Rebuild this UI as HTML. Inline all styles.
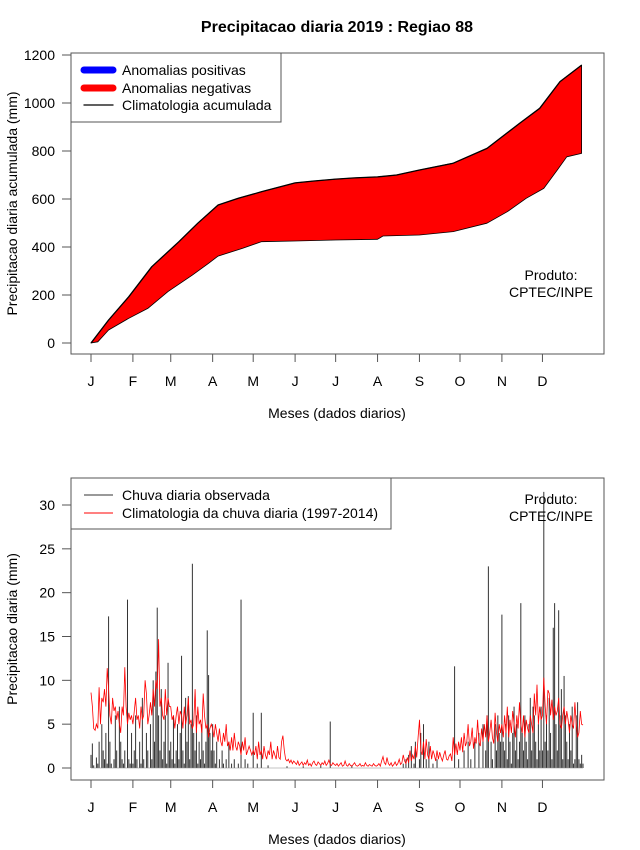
<!DOCTYPE html>
<html><head><meta charset="utf-8"><style>
html,body{margin:0;padding:0;background:#fff;}
svg{display:block;font-family:"Liberation Sans",sans-serif;}
</style></head><body>
<svg id="chart" width="640" height="850" viewBox="0 0 640 850" xmlns="http://www.w3.org/2000/svg">
<text x="337" y="32" text-anchor="middle" font-size="16" font-weight="bold">Precipitacao diaria 2019 : Regiao 88</text>
<g id="topPanel"></g>
<g id="botPanel"></g>
</svg>
<script>
// ---- data ----
const monthLabels = ["J","F","M","A","M","J","J","A","S","O","N","D"];
const monthStartDays = [0,31,59,90,120,151,181,212,243,273,304,334];
const climDays = [0,13,28,45,65,79,94,109,126,151,165,181,195,212,226,243,268,293,317,332,347,363];
const climCum  = [0,96,193,318,422,499,575,603,630,667,675,683,688,692,700,721,749,811,915,978,1089,1158];
const obsDays  = [0,5,13,28,42,57,75,87,94,112,126,151,181,212,216,243,268,293,308,322,335,345,352,363];
const obsCum   = [0,5,54,103,144,214,283,332,362,394,422,425,429,432,446,450,464,499,547,603,644,721,776,790];
const topTicks = [0,200,400,600,800,1000,1200];
const botTicks = [0,5,10,15,20,25,30];
const obsDaily = [].concat(
[1.5,2.8,0.3,0,1.2,0.5,3,0,5,2,1,4,0.5,17.3,3,0.5,0,1,6,2,0,7,3,1,0.5,2,0,19.2,1,0.5,4],
[0.5,2,6,1,0,3,0.5,8,1,0,4,2,0,5,1,10,3,11,18.3,6,2,9,1,3,6,0.5,12,2],
[3,1,6,0.5,2,5,1,4,12.8,2,0.5,8,3,8.2,1,5,23.3,4,2,6,0.5,3,1,5,2,0.5,3,15.7,10.6,4,2],
[5,2,0.5,3,0,1,0,2,0.5,0,1,0,3,0,0.5,0,1,0,0,0.5,0,19.2,0,0,1,0,0.5,0,0,0],
[6.3,0,0,0.5,0,0,6.3,0,0,0,0,0.3,0,0,0,0,0,0,0,0,0,0,0,0,0,0.2,0,0,0,0,0],
[0,0,0,0,0,0,0.2,0,0,0,0,0,0,0,0,0,0,0,0,0.3,0,0,0,0,0,0,5.3,0,0,0],
[0,0,0,0,0,0,0,0,0,0,0,0,0.3,0,0,0,0,0,0,0,0,0,0,0,0,0,0,0,0,0,0],
[0,0,0,0,0,0,0,0,0,0,0,0,0,0,0,0,0,0,0,0.5,0,1,0,1.5,0,2.5,0,0.5,3,0,0],
[1,4,0,5,0,1,0,3,0,0,0.5,0,0,1,0,0,0,0,0,0,0,0,0,0,0,0,11.6,0,0,1],
[0,0,0,2,0,0,3,0,1,0,0,3,0,0,4,0,0,5,0,2,6,23,0,3,1,0,5,2,6,4,3],
[17.5,3,2,5,1,6,3,0.5,4,7,2,5,1,3,18.8,4,2,6,3,1,5,8,2,7,6,3,1,5,2,7],
[2,31.5,3,6,2,8,4,1,16,18.8,5,2,18,6,9,1,10.5,6,3,1,5,2,7,0.5,1,6,7.5,1,0.5,1.5,0.5]
);
const climDaily = [].concat(
[8.6,7,4.5,4.3,5,4.5,9.2,5,8,7.5,9,7,11.4,9,6,5,8,6.5,7,5.5,6.5,5,4,7,6,11.5,7,5,6.3,5.5,6],
[5,6.5,8,5.5,6,4.5,7,5.5,6,10,8.5,5,6,7.5,6,9,7,10,9,14.7,7,8,6,5.5,9,6,8,7],
[7,5.5,6,4.5,6,7,5,6.5,6,4.5,7,5,6,8,5,5.5,4.5,5,9,4,7,5,5.5,4,8.5,6,4.5,5,3.5,4.5,5],
[4.5,3.5,5,4,3,4.5,3,2.5,4,3,5,2.5,3,2,3.5,2,4,2.5,2,3,2.5,1.5,3,2,3.5,1.5,2,2.5,2,1.5],
[2,1.5,2.5,1,3,1.5,2,1,2.5,1.5,1,2,1.5,3,1,2,1.5,1,2.5,1.2,1,3,3.7,2,1,0.8,1,0.6,0.9,0.5,0.8],
[0.6,0.4,0.8,0.3,0.5,0.7,0.3,0.6,0.4,0.9,0.3,0.5,0.2,0.6,0.8,0.4,0.3,0.7,0.5,0.3,0.6,0.4,0.8,0.3,0.5,0.9,0.4,0.3,0.6,0.4],
[0.3,0.5,0.2,0.4,0.6,0.2,0.3,0.8,0.3,0.2,0.5,0.3,0.2,0.4,0.6,0.3,0.2,0.3,0.5,0.2,0.3,0.2,0.6,0.3,0.2,0.4,0.3,0.2,0.5,0.3,0.2],
[0.3,0.5,0.2,0.8,1.3,0.6,0.4,1.2,0.5,0.3,0.6,0.2,0.4,0.7,0.3,0.5,1,0.4,0.6,1.5,0.8,0.5,1.2,0.6,2,0.8,1.5,1,2.5,1.2,3.5],
[5.5,2,1.5,3,1,3.3,1.5,1,2.5,1,2,1.5,0.8,2,1,1.8,1.2,0.8,1.5,2,1,0.9,1.4,1.6,0.8,3.5,1.5,2.8,1.5,3],
[2,3.5,1.8,4,2.5,3,5,2.5,3,4.6,2.2,3.5,2.8,5.5,3,2.5,4.5,3,5,3.5,6,3,4,5.5,3.5,2.8,6.3,4,3,5,4],
[5,3.5,6,4,7,3.5,5.5,4,6.5,5,3.5,6,4.5,7.5,5,4,6,3.5,5.5,4.5,4,6,5,4,8.5,6,9.5,5,7,5.5],
[6,10.3,7,5,8.9,8.5,6,7.8,5.5,7,6,6.5,8,5,4.5,6,7,5,6.5,5.5,4,6,5,4.5,7.5,5,3.5,4,6.5,5,4.9]
);

// ---- helpers ----
const NS="http://www.w3.org/2000/svg";
function mk(parent,tag,attrs,text){const e=document.createElementNS(NS,tag);for(const k in attrs)e.setAttribute(k,attrs[k]);if(text!==undefined)e.textContent=text;parent.appendChild(e);return e;}
const xDay = d => 91 + d*(583-91)/364;

function panel(g, box, yScale, ticks, ylabel){
  monthStartDays.forEach((d,i)=>{
    const x=xDay(d);
    const t=mk(g,'line',{x1:x,x2:x,y1:box.b,y2:box.b+8,stroke:'#555'});
    
    
    const l=mk(g,'text',{x:x,y:box.b+32,'text-anchor':'middle','font-size':14},monthLabels[i]);
    
    
  });
  ticks.forEach(v=>{
    const y=yScale(v);
    const t=mk(g,'line',{x1:box.l-9,x2:box.l,y1:y,y2:y,stroke:'#555'});
    
    
    const l=mk(g,'text',{x:box.l-16,y:y+5,'text-anchor':'end','font-size':14},String(v));
    
    
  });
  const xt=mk(g,'text',{x:337,y:box.b+64,'text-anchor':'middle','font-size':14},'Meses (dados diarios)');
  
  
  const cy=(box.t+box.b)/2;
  const yt=mk(g,'text',{x:17,y:cy,'text-anchor':'middle','font-size':14,transform:`rotate(-90 17 ${cy})`},ylabel);
  
  
}

// ---- top panel ----
const topG=document.getElementById('topPanel');
const tb={l:71,r:604,t:53,b:354};
const yTop=v=>343 - v*(343-55)/1200;
panel(topG,tb,yTop,topTicks,'Precipitacao diaria acumulada (mm)');
let pts=[];
climDays.forEach((d,i)=>pts.push(xDay(d).toFixed(1)+','+yTop(climCum[i]).toFixed(1)));
for(let i=obsDays.length-1;i>=0;i--)pts.push(xDay(obsDays[i]).toFixed(1)+','+yTop(obsCum[i]).toFixed(1));
const area=mk(topG,'polygon',{points:pts.join(' '),fill:'#ff0000',stroke:'#000','stroke-width':0.8,'stroke-linejoin':'round'});


const cl=mk(topG,'polyline',{points:climDays.map((d,i)=>xDay(d).toFixed(1)+','+yTop(climCum[i]).toFixed(1)).join(' '),fill:'none',stroke:'#000','stroke-width':1.3,'stroke-linejoin':'round'});


const tbox=mk(topG,'rect',{x:tb.l,y:tb.t,width:tb.r-tb.l,height:tb.b-tb.t,fill:'none',stroke:'#555'});


const lg=mk(topG,'g',{});


mk(lg,'rect',{x:71,y:53,width:210,height:69,fill:'#fff',stroke:'#555'});
const legItems=[['#0000ff',7,'Anomalias positivas',71],['#ff0000',7,'Anomalias negativas',89],['#000',1.3,'Climatologia acumulada',106]];
legItems.forEach(it=>{
  const e=mk(lg,'g',{});
  
  
  mk(e,'line',{x1:84,x2:113,y1:it[3]-1,y2:it[3]-1,stroke:it[0],'stroke-width':it[1],'stroke-linecap':'round'});
  mk(e,'text',{x:122,y:it[3]+4,'font-size':14},it[2]);
});
const p1=mk(topG,'text',{x:551,y:280,'text-anchor':'middle','font-size':14},'Produto:');


const p2=mk(topG,'text',{x:551,y:297,'text-anchor':'middle','font-size':14},'CPTEC/INPE');



// ---- bottom panel ----
const botG=document.getElementById('botPanel');
const bb={l:71,r:604,t:478,b:780};
const yBot=v=>768 - v*(768-505)/30;
panel(botG,bb,yBot,botTicks,'Precipitacao diaria (mm)');
const bars=mk(botG,'g',{});


obsDaily.forEach((v,d)=>{
  const x=xDay(d);
  const b=mk(bars,'line',{x1:x,x2:x,y1:yBot(0),y2:yBot(v),stroke:'#333','stroke-width':1});
  
  
});
const base=mk(botG,'line',{x1:xDay(0),x2:xDay(364),y1:yBot(0),y2:yBot(0),stroke:'#888','stroke-width':0.6});


const cline=mk(botG,'polyline',{points:climDaily.map((v,d)=>xDay(d).toFixed(1)+','+yBot(v).toFixed(1)).join(' '),fill:'none',stroke:'#ff0000','stroke-width':0.8});


const bbox=mk(botG,'rect',{x:bb.l,y:bb.t,width:bb.r-bb.l,height:bb.b-bb.t,fill:'none',stroke:'#555'});


const lg2=mk(botG,'g',{});


mk(lg2,'rect',{x:71,y:478,width:320,height:51,fill:'#fff',stroke:'#555'});
[['#333','Chuva diaria observada',495],['#ff0000','Climatologia da chuva diaria (1997-2014)',513]].forEach(it=>{
  const e=mk(lg2,'g',{});
  
  
  mk(e,'line',{x1:84,x2:113,y1:it[2],y2:it[2],stroke:it[0],'stroke-width':1});
  mk(e,'text',{x:122,y:it[2]+5,'font-size':14},it[1]);
});
const q1=mk(botG,'text',{x:551,y:504,'text-anchor':'middle','font-size':14},'Produto:');


const q2=mk(botG,'text',{x:551,y:521,'text-anchor':'middle','font-size':14},'CPTEC/INPE');


</script>
</body></html>
